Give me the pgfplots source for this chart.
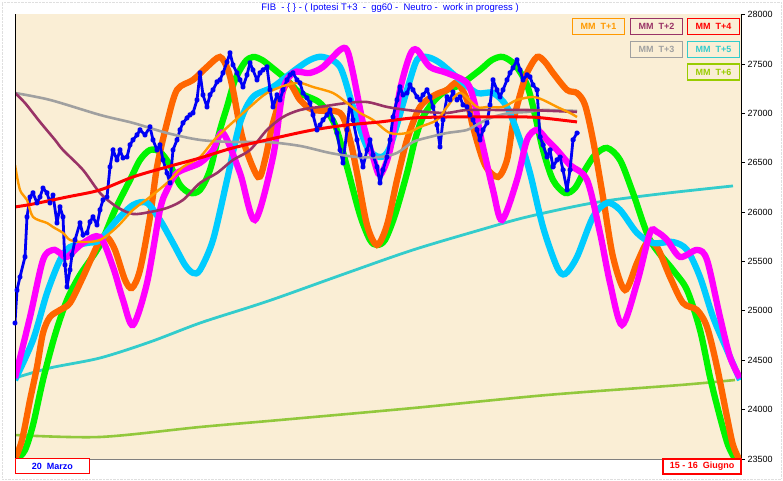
\documentclass[border=0pt]{standalone}
\usepackage{pgfplots}
\pgfplotsset{compat=1.18}
\usepackage{fontspec}
\setmainfont{Liberation Sans}
\definecolor{bgbeige}{RGB}{250,238,213}
\definecolor{cGreen}{RGB}{0,245,0}
\definecolor{cOrange}{RGB}{255,102,0}
\definecolor{cMag}{RGB}{255,0,255}
\definecolor{cLBlue}{RGB}{0,204,255}
\definecolor{cPrice}{RGB}{0,0,245}
\definecolor{cOrThin}{RGB}{255,153,0}
\definecolor{cMaroon}{RGB}{153,51,102}
\definecolor{cGray}{RGB}{160,160,160}
\definecolor{cRed}{RGB}{255,0,0}
\definecolor{cCyan}{RGB}{51,204,204}
\definecolor{cYG}{RGB}{146,200,60}
\definecolor{cYGt}{RGB}{153,204,0}
\begin{document}
\begin{tikzpicture}
\useasboundingbox (-15pt,-22pt) rectangle (768pt,459pt);
\draw[gray!25, densely dotted] (-13pt,-20pt) rectangle (766pt,457pt);
\begin{axis}[
  at={(0pt,0pt)}, anchor=south west,
  scale only axis, width=726pt, height=445pt,
  xmin=15, xmax=741, ymin=23500, ymax=28006,
  axis background/.style={fill=bgbeige},
  axis x line*=bottom, axis y line*=right,
  x axis line style={draw=gray, line width=1pt, -},
  y axis line style={draw=black, line width=1pt, -},
  xtick=\empty,
  ytick={23500,24000,...,28000},
  scaled y ticks=false,
  ytick pos=right, tick align=outside, major tick length=4pt,
  tick style={black, line width=0.8pt},
  yticklabel style={font=\fontsize{9}{9}\selectfont, xshift=-1pt},
  /pgf/number format/assume math mode=true,
  /pgf/number format/set thousands separator={},
  clip=true,
]
% MM T+6 yellow-green
\addplot[cYG, line width=2.6pt, smooth] coordinates {
(15,23743)(100,23723)(200,23824)(280,23895)(413,24016)(547,24148)(680,24249)(735,24300)};
% MM T+5 cyan thin
\addplot[cCyan, line width=2.8pt, smooth] coordinates {
(15,24320)(50,24422)(100,24523)(150,24685)(200,24877)(250,25039)(280,25141)(347,25384)(413,25617)(480,25819)(527,25951)(593,26093)(660,26184)(733,26265)};
% green cycle
\addplot[cGreen, line width=6.3pt, smooth] coordinates {
(17,23500)(25,23590)(33,23845)(43,24300)(55,24756)(67,25110)(80,25363)(100,25667)(115,26022)(130,26325)(140,26528)(150,26629)(160,26609)(170,26477)(180,26275)(190,26194)(200,26224)(210,26427)(220,26832)(227,27065)(235,27338)(245,27520)(253,27571)(262,27541)(275,27439)(287,27338)(300,27206)(320,27105)(335,26882)(347,26457)(360,25971)(370,25718)(377,25667)(385,25718)(395,25971)(407,26396)(415,26731)(423,26963)(435,27136)(447,27237)(460,27288)(480,27439)(492,27541)(503,27571)(515,27490)(527,27288)(535,26984)(543,26629)(553,26325)(565,26194)(575,26244)(585,26427)(595,26579)(607,26650)(620,26528)(633,26194)(650,25718)(673,25414)(687,25211)(700,24806)(710,24330)(720,23925)(728,23642)(735,23500)};
% orange cycle
\addplot[cOrange, line width=6.3pt, smooth] coordinates {
(15,23500)(22,23692)(30,24097)(37,24432)(43,24776)(50,24938)(60,25009)(70,25080)(83,25343)(100,25718)(107,25748)(115,25617)(125,25313)(132,25232)(140,25414)(150,25951)(157,26457)(167,26903)(177,27237)(193,27338)(207,27470)(220,27571)(228,27439)(233,27237)(243,26731)(258,26356)(265,26528)(273,26903)(287,27308)(300,27136)(313,27034)(340,27004)(350,26731)(357,26396)(367,25870)(377,25667)(387,25870)(397,26325)(407,26731)(420,27065)(435,27186)(447,27237)(457,27308)(467,27136)(473,26862)(485,26477)(498,26356)(507,26528)(513,26903)(520,27186)(527,27409)(537,27571)(545,27520)(553,27409)(567,27237)(577,27206)(585,27085)(593,26731)(603,26153)(613,25546)(625,25211)(637,25485)(647,25687)(657,25647)(670,25343)(683,25080)(697,25009)(707,24837)(717,24432)(727,23925)(733,23642)(739,23500)};
% light blue cycle
\addplot[cLBlue, line width=6.3pt, smooth] coordinates {
(15,24300)(33,24705)(47,25181)(60,25515)(70,25647)(87,25687)(100,25718)(117,25920)(133,26072)(147,26093)(160,25920)(173,25687)(185,25465)(193,25384)(200,25414)(213,25718)(227,26325)(240,26903)(253,27166)(273,27267)(295,27439)(310,27541)(323,27571)(340,27470)(353,27065)(367,26660)(380,26558)(390,26660)(407,27237)(417,27541)(427,27571)(440,27510)(460,27338)(477,27206)(493,27206)(507,27065)(520,26731)(530,26396)(543,25849)(557,25444)(565,25373)(577,25546)(593,25951)(607,26093)(620,26022)(637,25789)(653,25687)(673,25697)(687,25617)(700,25343)(713,24938)(727,24604)(740,24300)};
% magenta cycle
\addplot[cMag, line width=6.3pt, smooth] coordinates {
(15,24320)(30,24938)(43,25515)(53,25617)(60,25586)(67,25546)(83,25687)(100,25748)(113,25444)(123,25110)(133,24857)(147,25283)(160,26022)(167,26224)(177,26396)(200,26498)(213,26629)(223,26801)(240,26396)(255,25920)(273,26558)(283,27237)(293,27409)(300,27419)(310,27409)(323,27470)(340,27642)(347,27642)(353,27409)(363,26903)(373,26558)(380,26376)(390,26629)(400,27237)(410,27591)(417,27642)(430,27470)(447,27409)(467,27308)(475,27085)(480,26801)(493,26224)(502,25920)(517,26325)(527,26731)(537,26832)(547,26731)(557,26629)(570,26477)(587,26325)(600,25789)(610,25283)(622,24857)(637,25283)(650,25789)(657,25799)(667,25718)(680,25546)(697,25617)(707,25515)(720,24938)(730,24533)(740,24320)};
% price
\addplot[cPrice, line width=2.8pt, mark=*, mark size=1.5pt, line join=round] coordinates {
(15,24877)(17,25211)(20,25343)(25,25546)(27,25951)(30,26153)(33,26194)(37,26093)(40,26153)(43,26244)(47,26194)(50,26093)(53,26173)(57,25890)(60,26052)(63,25951)(65,25465)(67,25242)(70,25414)(72,25566)(75,25718)(80,25890)(83,25768)(87,25789)(90,25900)(93,25951)(97,25870)(100,26022)(103,26123)(107,26153)(110,26457)(113,26629)(117,26528)(120,26629)(123,26548)(127,26558)(130,26680)(133,26731)(137,26781)(140,26832)(145,26781)(150,26862)(153,26731)(157,26629)(160,26680)(163,26528)(167,26396)(170,26295)(173,26629)(177,26731)(180,26832)(183,26903)(187,26953)(190,26984)(193,27004)(197,27136)(200,27409)(203,27186)(207,27065)(210,27186)(213,27237)(217,27318)(220,27338)(223,27409)(227,27520)(230,27612)(233,27490)(237,27409)(240,27338)(243,27267)(247,27389)(250,27510)(253,27439)(257,27338)(260,27409)(263,27439)(267,27470)(270,27237)(273,27065)(277,27186)(280,27136)(283,27237)(287,27338)(290,27389)(293,27409)(297,27338)(300,27308)(303,27206)(307,27156)(310,27105)(313,26984)(317,26832)(320,26882)(323,26933)(327,26984)(330,27034)(333,26933)(337,26801)(340,26629)(343,26498)(347,26832)(350,27136)(353,26933)(357,26731)(360,26579)(363,26457)(367,26629)(370,26731)(373,26579)(377,26457)(380,26295)(383,26427)(387,26558)(390,26731)(393,26963)(397,27136)(400,27267)(403,27186)(407,27206)(410,27288)(413,27237)(417,27166)(420,27136)(423,27186)(427,27237)(430,27166)(433,27065)(437,26882)(440,26660)(443,26933)(447,27166)(450,27136)(453,27216)(457,27136)(460,27166)(463,27085)(467,27065)(470,26984)(473,26933)(477,26832)(480,26731)(483,26832)(487,26903)(490,27085)(493,27338)(497,27237)(500,27166)(503,27237)(507,27338)(510,27409)(513,27460)(517,27541)(520,27439)(523,27338)(527,27389)(530,27369)(533,27288)(537,27237)(540,26761)(543,26680)(547,26558)(550,26629)(553,26457)(557,26528)(560,26558)(563,26427)(567,26224)(570,26427)(573,26731)(577,26801)};
% MM T+3 gray
\addplot[cGray, line width=2.6pt, smooth] coordinates {
(15,27206)(50,27136)(100,26984)(133,26903)(167,26801)(200,26731)(233,26710)(267,26710)(300,26670)(330,26599)(357,26558)(380,26558)(397,26599)(413,26710)(430,26761)(447,26801)(467,26832)(480,26903)(493,26963)(510,27004)(527,27014)(543,27034)(577,27024)};
% MM T+2 maroon
\addplot[cMaroon, line width=2.6pt, smooth] coordinates {
(15,27206)(25,27105)(40,26913)(55,26731)(63,26629)(83,26427)(100,26194)(117,26052)(133,25981)(150,26001)(167,26042)(183,26123)(200,26295)(217,26396)(233,26528)(250,26629)(267,26832)(283,26963)(300,27034)(320,27065)(347,27105)(367,27115)(387,27065)(407,27034)(427,27014)(447,27004)(467,27034)(500,27034)(527,27034)(577,27014)};
% MM T+1 orange thin
\addplot[cOrThin, line width=2.4pt, smooth] coordinates {
(15,26477)(20,26224)(27,26123)(33,25951)(47,25890)(53,25849)(63,25789)(70,25718)(83,25697)(100,25718)(117,25849)(133,26022)(150,26153)(167,26295)(183,26457)(200,26558)(217,26761)(250,27065)(267,27206)(287,27288)(300,27308)(313,27267)(333,27206)(347,27105)(360,27004)(373,26933)(390,26801)(407,26801)(420,26862)(437,26933)(447,27065)(460,27206)(477,27065)(487,27065)(503,27065)(517,27136)(533,27166)(543,27136)(557,27065)(570,27004)(577,26963)};
% MM T+4 red
\addplot[cRed, line width=3pt, smooth] coordinates {
(15,26052)(33,26082)(67,26153)(100,26224)(133,26356)(167,26457)(200,26548)(233,26650)(280,26761)(313,26832)(347,26882)(380,26913)(413,26953)(447,26963)(480,26963)(527,26963)(543,26953)(577,26913)};
\draw[black, line width=1pt] (rel axis cs:0,0) -- (rel axis cs:0,1);
\end{axis}
% title
\node[text=blue, font=\fontsize{9.5}{10}\selectfont] at (375pt,451pt) {FIB\ \ -\ \{ \}\ -\ ( Ipotesi T+3\ \ -\ \ gg60\ -\ \ Neutro\ -\ \ work in progress )};
% legend boxes
\tikzset{lg/.style={draw=#1, text=#1, line width=1.6pt, minimum width=52pt, minimum height=16pt, inner sep=0pt, font=\bfseries\fontsize{9}{9}\selectfont}}
\node[lg=cOrThin] at (583.5pt,432.5pt) {MM\ \ T+1};
\node[lg=cMaroon] at (641.5pt,432.5pt) {MM\ \ T+2};
\node[lg=cRed] at (698.5pt,432.5pt) {MM\ \ T+4};
\node[lg=cGray] at (641.5pt,409.5pt) {MM\ \ T+3};
\node[lg=cCyan] at (698.5pt,409.5pt) {MM\ \ T+5};
\node[lg=cYGt] at (698.5pt,387pt) {MM\ \ T+6};
% bottom boxes
\node[draw=red, fill=white, text=blue, line width=1.6pt, minimum width=74pt, minimum height=15pt, inner sep=0pt, font=\bfseries\fontsize{9}{9}\selectfont] at (37.5pt,-7pt) {20\ \ Marzo};
\node[draw=red, fill=white, text=red, line width=1.6pt, minimum width=78pt, minimum height=15pt, inner sep=0pt, font=\bfseries\fontsize{9}{9}\selectfont] at (687pt,-7.5pt) {15 - 16\ \ Giugno};
\end{tikzpicture}
\end{document}
